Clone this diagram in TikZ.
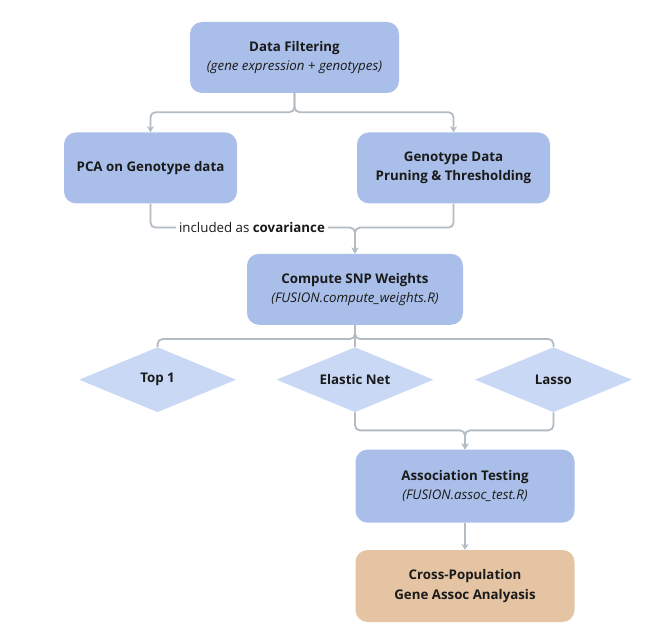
\documentclass[tikz,border=0pt]{standalone}
\usepackage{fontspec}
\setmainfont{Open Sans}
\usetikzlibrary{arrows.meta,positioning,shapes.geometric}

\definecolor{boxblue}{HTML}{A9BEE8}
\definecolor{choiceblue}{HTML}{C9D9F5}
\definecolor{boxtan}{HTML}{E5C4A4}
\definecolor{linegray}{HTML}{B3BBC3}
\definecolor{inkdark}{HTML}{1A1A1A}

\begin{document}
\begin{tikzpicture}[auto,
    step box/.style={rectangle, rounded corners=12pt, fill=boxblue, draw=none,
                     minimum height=71pt, align=center, text=inkdark,
                     font=\fontsize{13.3}{19.5}\selectfont},
    result box/.style={step box, fill=boxtan},
    choice/.style={diamond, fill=choiceblue, draw=none, aspect=2.4,
                   minimum width=157pt, minimum height=65pt, inner sep=0pt,
                   text=inkdark, font=\fontsize{13.3}{16}\selectfont\bfseries},
    link/.style={draw=linegray, line width=1.8pt, rounded corners=5pt},
    arrow link/.style={link, -{Stealth[length=6pt,width=7pt]}}]

  \useasboundingbox (0,0) rectangle (670pt,-636pt);

  %Boxes%
  \node[step box, minimum width=209pt] (filter) at (294.5pt,-57.5pt)
    {\textbf{Data Filtering}\\\textit{(gene expression + genotypes)}};
  \node[step box, minimum width=173pt] (pca) [below=39pt of filter, xshift=-144pt]
    {\textbf{PCA on Genotype data}};
  \node[step box, minimum width=193pt] (geno) [below=39pt of filter, xshift=159pt]
    {\textbf{Genotype Data}\\\textbf{Pruning \& Thresholding}};
  \node[step box, minimum width=216pt] (weights) [below=50pt of pca, xshift=204.5pt]
    {\textbf{Compute SNP Weights}\\\textit{(FUSION.compute\_weights.R)}};

  %Models%
  \node[choice] (enet) [below=22pt of weights] {Elastic Net};
  \node[choice] (top) [left=40pt of enet] {Top 1};
  \node[choice] (lasso) [right=41pt of enet] {Lasso};

  \node[step box, minimum width=219pt, minimum height=73pt] (assoc) [below=37pt of enet, xshift=110pt]
    {\textbf{Association Testing}\\\textit{(FUSION.assoc\_test.R)}};
  \node[result box, minimum width=219pt, minimum height=72pt] (cross) [below=27pt of assoc]
    {\textbf{Cross-Population}\\\textbf{Gene Assoc Analyasis}};

  %Connectors%
  \draw[arrow link] (filter.south) -- ++(0,-19pt) -| (pca.north);
  \draw[arrow link] (filter.south) -- ++(0,-19pt) -| (geno.north);
  \draw[arrow link] (pca.south) -- ++(0,-24pt) -| (weights.north);
  \draw[arrow link] (geno.south) -- ++(0,-24pt) -| (weights.north);
  \node[fill=white, inner sep=3pt, text=inkdark, font=\fontsize{13.3}{16}\selectfont]
    (cov) at (252pt,-227.5pt) {included as \textbf{covariance}};

  \draw[link] (weights.south) -- ++(0,-14pt) -| (top.north);
  \draw[link] (weights.south) -- (enet.north);
  \draw[link] (weights.south) -- ++(0,-14pt) -| (lasso.north);

  \draw[arrow link] (enet.south) -- ++(0,-18pt) -| (assoc.north);
  \draw[arrow link] (lasso.south) -- ++(0,-18pt) -| (assoc.north);
  \draw[arrow link] (assoc.south) -- (cross.north);
\end{tikzpicture}
\end{document}
